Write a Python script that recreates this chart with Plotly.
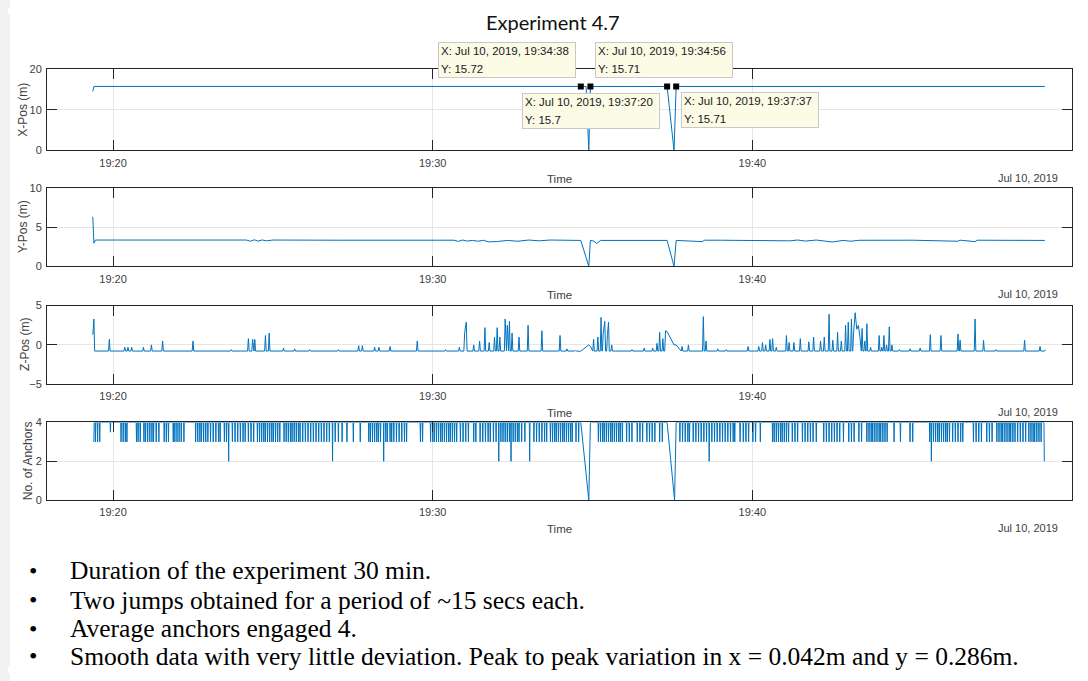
import pandas as pd
import plotly.graph_objects as go

# ---------------- data (seconds after 19:19:00, Jul 10 2019) ----------------
T0 = pd.Timestamp("2019-07-10 19:19:00")

tick_times = ["2019-07-10 19:20:00", "2019-07-10 19:30:00",
              "2019-07-10 19:40:00", "2019-07-10 19:50:00"]
tick_labels = ["19:20", "19:30", "19:40", "19:50"]
x_range = ["2019-07-10 19:17:56", "2019-07-10 19:50:00"]

# data drop-out windows (last good sample, first good sample)
dropouts = [(938, 956), (1100, 1117)]

# X position
x_t = [22, 24, 938, 948, 953, 956, 1100, 1113, 1117, 1809]
x_v = [14.5, 15.72, 15.72, 15.71, 0.0, 15.71, 15.70, 0.0, 15.71, 15.71]

# Y position
y_t = [22, 24, 27, 40, 120, 240, 310, 318, 325, 332, 340, 348, 360, 480, 600,
       700, 708, 716, 724, 735, 745, 755, 765, 780, 800, 820, 840, 860, 880,
       900, 920, 938, 953, 956, 963, 968, 975, 1000, 1050, 1100, 1113, 1117,
       1166, 1170, 1200, 1260, 1330, 1345, 1360, 1380, 1395, 1410, 1430, 1445,
       1460, 1500, 1560, 1646, 1650, 1678, 1682, 1720, 1809]
y_v = [6.3, 2.95, 3.35, 3.35, 3.33, 3.35, 3.35, 3.2, 3.38, 3.22, 3.36, 3.25,
       3.35, 3.33, 3.35, 3.33, 3.18, 3.35, 3.22, 3.3, 3.2, 3.32, 3.12, 3.15,
       3.3, 3.2, 3.35, 3.25, 3.35, 3.3, 3.33, 3.3, 0.0, 3.32, 3.2, 2.9, 3.3,
       3.32, 3.33, 3.3, 0.0, 3.3, 3.15, 3.33, 3.33, 3.33, 3.25, 3.35, 3.22,
       3.35, 3.18, 3.1, 3.3, 3.2, 3.32, 3.35, 3.33, 3.2, 3.33, 3.15, 3.33,
       3.32, 3.3]

# Z position: samples off the resting level
z_base = -0.78
z_t = [22, 24, 53, 82, 88, 95, 117, 132, 153, 210, 282, 314, 322, 326, 346,
       353, 380, 401, 429, 483, 521, 528, 551, 559, 580, 631, 684, 710, 720,
       723, 737, 748, 758, 766, 776, 781, 786, 796, 800, 804, 809, 822, 839,
       865, 899, 912, 928, 938, 953, 956, 962, 970, 976, 980, 983, 988, 990,
       996, 1034, 1057, 1073, 1081, 1086, 1092, 1097, 1100, 1113, 1117, 1128,
       1140, 1168, 1173, 1195, 1211, 1252, 1272, 1279, 1285, 1293, 1298, 1305,
       1324, 1329, 1338, 1350, 1366, 1375, 1388, 1395, 1404, 1411, 1420, 1427,
       1435, 1440, 1446, 1450, 1453, 1456, 1459, 1462, 1466, 1471, 1475, 1482,
       1498, 1503, 1507, 1512, 1517, 1522, 1536, 1556, 1575, 1594, 1614, 1646,
       1650, 1678, 1694, 1717, 1771, 1800, 1810]
z_v = [1.3, 3.3, 0.7, -0.3, -0.3, -0.3, -0.3, 0.0, 0.5, 0.5, -0.6, 0.8, 0.7,
       0.7, 1.2, 1.5, -0.4, -0.5, -0.6, -0.6, -0.1, -0.1, -0.3, -0.3, -0.2,
       0.5, -0.6, -0.3, 1.6, 2.9, 0.0, 0.5, 2.2, 0.3, 1.0, 2.2, 1.0, 3.3, 2.5,
       3.0, 1.5, 1.0, 2.5, 1.8, 1.2, -0.5, -0.7, -0.8, 0.0, -0.2, 0.7, 1.0,
       3.5, 1.5, 3.0, 1.3, 2.9, 0.0, -0.6, -0.4, -0.4, 0.2, 1.6, 0.8, 1.8,
       1.7, 0.0, 0.0, -0.2, 0.0, 3.6, 0.5, -0.5, -0.6, -0.2, -0.2, 0.3, 0.0,
       0.7, 0.8, -0.3, 1.2, 0.3, 0.3, 0.8, 0.4, 1.0, 0.5, 1.0, 3.9, 0.6, 1.6,
       0.5, 2.5, 2.9, 3.3, 1.5, 4.1, 2.0, 2.5, 1.0, 2.1, 0.5, 2.7, -0.3, 1.2,
       -0.3, 1.2, 0.0, 2.3, 0.0, -0.6, -0.5, -0.4, 1.3, 1.2, 1.4, 0.6, 3.3,
       0.6, -0.6, 0.6, -0.2, -0.6]

# Number of anchors: samples below the usual 4 (plus drop-out samples)
anchor_base = 4
anchor_t = [24, 27, 31, 35, 55, 75, 79, 83, 86, 104, 107, 111, 118, 121, 125,
            129, 133, 136, 141, 146, 156, 160, 164, 173, 176, 180, 184, 188,
            193, 215, 219, 223, 226, 230, 234, 238, 243, 248, 253, 258, 261,
            269, 273, 277, 284, 289, 294, 299, 304, 308, 314, 319, 324, 331,
            335, 339, 343, 346, 350, 354, 358, 361, 365, 369, 373, 381, 385,
            389, 393, 396, 400, 404, 408, 411, 416, 421, 426, 431, 436, 441,
            446, 451, 456, 461, 466, 472, 477, 483, 490, 499, 511, 524, 540,
            543, 547, 551, 555, 558, 562, 568, 572, 575, 580, 583, 587, 592,
            597, 602, 607, 611, 637, 641, 656, 660, 663, 667, 671, 675, 678,
            682, 686, 690, 693, 697, 701, 705, 712, 717, 722, 727, 737, 741,
            749, 754, 759, 764, 768, 774, 779, 784, 788, 792, 796, 800, 804,
            807, 811, 815, 819, 822, 827, 833, 842, 850, 855, 860, 865, 870,
            874, 881, 885, 889, 892, 896, 900, 904, 907, 911, 915, 919, 922,
            929, 934, 938, 953, 956, 971, 975, 979, 982, 986, 990, 994, 997,
            1001, 1005, 1009, 1012, 1016, 1024, 1029, 1034, 1044, 1049, 1054,
            1062, 1067, 1072, 1077, 1086, 1091, 1100, 1114, 1117, 1124, 1129,
            1134, 1139, 1142, 1149, 1154, 1159, 1164, 1169, 1174, 1179, 1184,
            1189, 1194, 1199, 1204, 1209, 1214, 1219, 1224, 1227, 1237, 1243,
            1248, 1253, 1261, 1266, 1275, 1298, 1301, 1305, 1309, 1313, 1316,
            1320, 1324, 1328, 1335, 1340, 1345, 1354, 1359, 1364, 1369, 1374,
            1380, 1394, 1399, 1404, 1409, 1414, 1419, 1424, 1431, 1441, 1446,
            1451, 1460, 1465, 1475, 1479, 1483, 1486, 1490, 1494, 1498, 1501,
            1505, 1509, 1513, 1526, 1538, 1556, 1561, 1593, 1596, 1600, 1604,
            1608, 1611, 1615, 1619, 1623, 1626, 1630, 1636, 1641, 1646, 1651,
            1655, 1675, 1680, 1685, 1690, 1700, 1705, 1710, 1719, 1723, 1727,
            1730, 1734, 1738, 1742, 1745, 1749, 1753, 1758, 1763, 1768, 1773,
            1779, 1783, 1787, 1790, 1794, 1798, 1802, 1808]
anchor_low = {55: 3.5, 277: 2, 472: 2, 568: 2, 784: 2, 807: 2, 842: 2,
              938: 4, 953: 0, 956: 4, 1100: 4, 1114: 0, 1117: 4,
              1179: 2, 1596: 2, 1808: 2}
anchor_n = [anchor_low.get(t, 3) for t in anchor_t]

# data tips
tip_t = [938, 956, 1100, 1117]
tip_v = [15.72, 15.71, 15.70, 15.71]

bullets = [
    "Duration of the experiment 30 min.",
    "Two jumps obtained for a period of ~15 secs each.",
    "Average anchors engaged 4.",
    "Smooth data with very little deviation. Peak to peak variation in x = 0.042m and y = 0.286m.",
]


# ---------------- helpers ----------------
def to_time(secs):
    return [T0 + pd.Timedelta(seconds=s) for s in secs]


def with_base(ts, vs, base, half):
    """Return the samples with the resting level between isolated samples."""
    def in_gap(t):
        return any(a <= t <= b for a, b in dropouts)
    out_t, out_v = [], []
    n = len(ts)
    for i, (t, v) in enumerate(zip(ts, vs)):
        free = not in_gap(t)
        if free and i > 0 and t - ts[i - 1] > 2 * half:
            out_t.append(t - half); out_v.append(base)
        out_t.append(t); out_v.append(v)
        if free and i < n - 1 and ts[i + 1] - t > 2 * half:
            out_t.append(t + half); out_v.append(base)
    return out_t, out_v


# the page body keeps its default 8px margin; figure fits inside the window
OFF = 8
W, H = 1088 - 2 * OFF, 681 - 2 * OFF
def px(x):
    return (x - OFF) / W
def py(y):
    return 1 - (y - OFF) / H


LINE = "#0072BD"
AXC = "#262626"
TXT = "#404040"
FONT = "Liberation Sans"

panels = [(64, 147), (185, 265), (305, 385), (424, 503)]
y_ranges = [[0, 20], [0, 10], [-5, 5], [0, 4]]
y_ticks = [[0, 10, 20], [0, 5, 10], [-5, 0, 5], [0, 2, 4]]
y_titles = ["X-Pos (m)", "Y-Pos (m)", "Z-Pos (m)", "No. of Anchors"]
y_title_x = [23, 23, 25, 28]

zt, zv = with_base(z_t, z_v, z_base, 1.5)
at, av = with_base(anchor_t, anchor_n, anchor_base, 0.6)

series = [(x_t, x_v), (y_t, y_v), (zt, zv), (at, av)]

fig = go.Figure()
for i, (ts, vs) in enumerate(series):
    sfx = "" if i == 0 else str(i + 1)
    fig.add_trace(go.Scatter(x=to_time(ts), y=vs, mode="lines",
                             line=dict(color=LINE, width=1),
                             xaxis="x" + sfx, yaxis="y" + sfx,
                             hoverinfo="skip"))

fig.add_trace(go.Scatter(x=to_time(tip_t), y=tip_v, mode="markers",
                         marker=dict(symbol="square", size=6, color="black"),
                         xaxis="x", yaxis="y", hoverinfo="skip"))

layout = dict(width=W, height=H, margin=dict(l=0, r=0, t=0, b=0),
              paper_bgcolor="white", plot_bgcolor="white", showlegend=False,
              font=dict(family=FONT, size=11, color=TXT))

annotations = []
for i, (top, bot) in enumerate(panels):
    sfx = "" if i == 0 else str(i + 1)
    layout["xaxis" + sfx] = dict(
        domain=[px(47), px(1072)], anchor="y" + sfx, type="date",
        range=x_range, tickvals=tick_times, ticktext=tick_labels,
        ticks="inside", ticklen=10, tickwidth=1, tickcolor=AXC,
        showline=True, linecolor=AXC, linewidth=1, mirror="allticks",
        showgrid=True, gridcolor="#e6e6e6", gridwidth=1, zeroline=False,
        tickfont=dict(family=FONT, size=11, color=TXT),
        ticklabelstandoff=2, fixedrange=True)
    layout["yaxis" + sfx] = dict(
        domain=[py(bot), py(top)], anchor="x" + sfx,
        range=y_ranges[i], tickvals=y_ticks[i],
        ticks="inside", ticklen=10, tickwidth=1, tickcolor=AXC,
        showline=True, linecolor=AXC, linewidth=1, mirror="allticks",
        showgrid=True, gridcolor="#e6e6e6", gridwidth=1, zeroline=False,
        tickfont=dict(family=FONT, size=11, color=TXT),
        ticklabelstandoff=2, fixedrange=True)
    annotations.append(dict(text="Time", x=px(559.5), y=py(bot + 29),
                            xref="paper", yref="paper", showarrow=False,
                            xanchor="center", yanchor="middle",
                            font=dict(family=FONT, size=11.5, color=TXT)))
    annotations.append(dict(text="Jul 10, 2019", x=px(1060), y=py(bot + 28),
                            xref="paper", yref="paper", showarrow=False,
                            xanchor="right", yanchor="middle",
                            font=dict(family=FONT, size=11, color=TXT)))
    annotations.append(dict(text=y_titles[i], x=px(y_title_x[i]),
                            y=py((top + bot) / 2), xref="paper", yref="paper",
                            showarrow=False, textangle=-90,
                            xanchor="center", yanchor="middle",
                            font=dict(family=FONT, size=12, color=TXT)))

annotations.append(dict(text="Experiment 4.7", x=px(553), y=py(16),
                        xref="paper", yref="paper", showarrow=False,
                        xanchor="center", yanchor="middle",
                        font=dict(family="Lato", size=20, color="#111111")))

# data-tip boxes (placement relative to the tip point, in pixels)
tip_place = [("right", "bottom", -5, 8), ("left", "bottom", 5, 8),
             ("right", "top", -7, -6), ("left", "top", 5, -6)]
for t, v, (xa, ya, xs, ys) in zip(tip_t, tip_v, tip_place):
    ts = T0 + pd.Timedelta(seconds=t)
    line1 = "X: %s, %s" % (ts.strftime("%b %d, %Y").replace(" 0", " "),
                           ts.strftime("%H:%M:%S"))
    line2 = "Y: %g" % v
    label = ("<span style='font-size:11.5px'>%s</span><br>"
             "<span style='font-size:11.5px'>%s</span>" % (line1, line2))
    annotations.append(dict(text=label, x=ts, y=v, xref="x", yref="y",
                            showarrow=False, xanchor=xa, yanchor=ya,
                            xshift=xs, yshift=ys, align="left",
                            width=132, height=30,
                            bgcolor="#fbfbe6", bordercolor="#c8c8c8",
                            borderwidth=1, borderpad=2,
                            font=dict(family=FONT, size=13.5, color="#1a1a1a")))

bullet_y = [575, 605, 634, 662]
for txt, yy in zip(bullets, bullet_y):
    annotations.append(dict(text="\u2022", x=px(33), y=py(yy), xref="paper",
                            yref="paper", showarrow=False, xanchor="center",
                            yanchor="middle",
                            font=dict(family="Liberation Serif", size=24,
                                      color="black")))
    annotations.append(dict(text=txt, x=px(68), y=py(yy), xref="paper",
                            yref="paper", showarrow=False, xanchor="left",
                            yanchor="middle",
                            font=dict(family="Liberation Serif", size=25.5,
                                      color="black")))

layout["annotations"] = annotations
layout["shapes"] = [dict(type="rect", xref="paper", yref="paper",
                         x0=0, x1=px(10), y0=0, y1=1, layer="below",
                         fillcolor="#f2f2f2", line=dict(width=0))]
fig.update_layout(**layout)

fig.write_html("out.html", config={"displayModeBar": False},
               post_script="document.body.style.background="
                           "'linear-gradient(to right, #f2f2f2 10px, #ffffff 10px)';")
